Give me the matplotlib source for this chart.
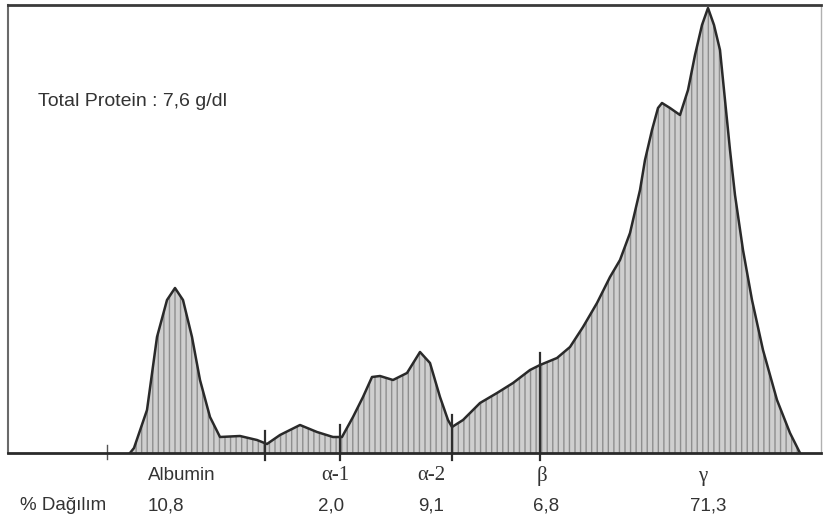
#!/usr/bin/env python3
"""Serum protein elektroforez densitometri eğrisi."""
import numpy as np
import matplotlib
matplotlib.use('Agg')
import matplotlib.pyplot as plt

# tarama pozisyonu (yatay) ve yoğunluk (dikey)
pos = [130, 134, 147, 157, 167, 175, 183, 192, 200, 210, 220, 240, 257, 267,
       280, 300, 317, 333, 342, 353, 363, 372, 380, 393, 407, 420, 430, 440,
       448, 452, 463, 480, 497, 513, 530, 540, 557, 570, 583, 597, 610, 620,
       630, 640, 645, 652, 658, 662, 670, 680, 688, 695, 702, 708, 714, 720,
       725, 730, 735, 743, 752, 763, 777, 790, 800]
intensity = [0, 5, 43, 116, 153, 165, 153, 116, 73, 36, 16, 17, 13, 9,
             18, 28, 21, 16, 16, 36, 56, 76, 77, 73, 80, 101, 90, 56,
             33, 26, 33, 50, 60, 70, 83, 88, 95, 106, 126, 150, 176, 193,
             220, 263, 293, 323, 345, 350, 345, 338, 363, 398, 428, 445, 428, 403,
             353, 303, 258, 203, 153, 103, 53, 20, 0]

# fraksiyon sınırları
dividers = [265, 340, 452, 540]
start_mark = 107

fractions = ['Albumin', 'α-1', 'α-2', 'β', 'γ']
frac_x = [148, 321, 417, 537, 698]
percents = ['10,8', '2,0', '9,1', '6,8', '71,3']
pct_x = [148, 318, 418, 533, 690]

W, H = 823, 526
fig = plt.figure(figsize=(W / 100, H / 100), dpi=100)
ax = fig.add_axes([8 / W, 1 - 453 / H, 813 / W, 448 / H])
ax.set_xlim(8, 821)
ax.set_ylim(0, 448)

ax.fill_between(pos, intensity, 0, facecolor='#cfcfcf', edgecolor='#8e8e8e',
                hatch='|||', linewidth=0)
ax.plot(pos, intensity, color='#2a2a2a', lw=1.8)

for d in dividers:
    top = np.interp(d, pos, intensity) + 12
    ax.plot([d, d], [-7, top], color='#2e2e2e', lw=1.6, clip_on=False)
ax.plot([start_mark, start_mark], [-6, 8], color='#555555', lw=1.0, clip_on=False)

for s in ['left', 'top', 'right']:
    ax.spines[s].set_color('#6a6a6a')
ax.spines['left'].set_linewidth(1.5)
ax.spines['top'].set_linewidth(2.0)
ax.spines['top'].set_color('#3a3a3a')
ax.spines['right'].set_linewidth(1.0)
ax.spines['right'].set_color('#b0b0b0')
ax.spines['bottom'].set_color('#2a2a2a')
ax.spines['bottom'].set_linewidth(2.0)
ax.set_xticks([])
ax.set_yticks([])

txt = dict(color='#333333', family=['Liberation Sans', 'DejaVu Sans'])
fig.text(38 / W, 1 - 102 / H, 'Total Protein : 7,6 g/dl', fontsize=14,
         va='center', ha='left', **txt)

for lab, x in zip(fractions, frac_x):
    if lab == 'Albumin':
        fig.text(x / W, 1 - 476 / H, lab, fontsize=13.5, va='center', ha='left', **txt)
    else:
        fig.text(x / W, 1 - 476 / H, lab, fontsize=15, va='center', ha='left',
                 color='#333333', family=['Liberation Serif', 'DejaVu Serif'])

fig.text(20 / W, 1 - 506 / H, '% Dağılım', fontsize=13.5, va='center', ha='left', **txt)
for p, x in zip(percents, pct_x):
    fig.text(x / W, 1 - 506 / H, p, fontsize=13.5, va='center', ha='left', **txt)

plt.savefig('out.png', dpi=100)
